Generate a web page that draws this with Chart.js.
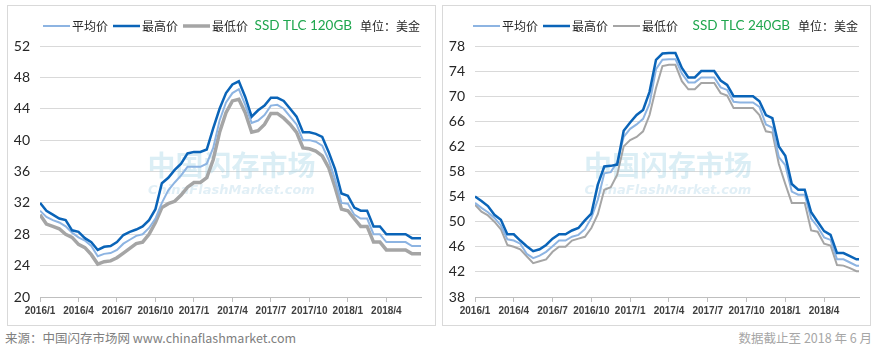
<!DOCTYPE html>
<html>
<head>
<meta charset="utf-8">
<script src="https://cdn.jsdelivr.net/npm/chart.js@4.4.1/dist/chart.umd.min.js"></script>
<style>
  body { margin: 0; background: #fff; width: 879px; height: 350px; position: relative; overflow: hidden; font-family: 'Noto Sans CJK SC', sans-serif; }
  .box { position: absolute; top: 5px; width: 427px; height: 319px; border: 1px solid #d9d9d9; }
  #box1 { left: 7px; }
  #box2 { left: 442px; }
  .box canvas { position: absolute; left: 0; top: 0; }
  .foot { position: absolute; top: 328px; font-size: 12.5px; line-height: 20px; white-space: nowrap; }
  #src { left: 5px; color: #808080; }
  #upto { right: 7px; color: #a6a6a6; }
</style>
</head>
<body>
<div class="box" id="box1"><canvas id="c120" width="427" height="319"></canvas></div>
<div class="box" id="box2"><canvas id="c240" width="427" height="319"></canvas></div>
<div class="foot" id="src">来源：中国闪存市场网 www.chinaflashmarket.com</div>
<div class="foot" id="upto">数据截止至 2018 年 6 月</div>
<script>
// half-monthly price samples, 2016/1 .. 2018/6
const dates = [
  '2016-01-01','2016-01-16','2016-02-01','2016-02-16','2016-03-01','2016-03-16','2016-04-01','2016-04-16','2016-05-01','2016-05-16',
  '2016-06-01','2016-06-16','2016-07-01','2016-07-16','2016-08-01','2016-08-16','2016-09-01','2016-09-16','2016-10-01','2016-10-16',
  '2016-11-01','2016-11-16','2016-12-01','2016-12-16','2017-01-01','2017-01-16','2017-02-01','2017-02-16','2017-03-01','2017-03-16',
  '2017-04-01','2017-04-16','2017-05-01','2017-05-16','2017-06-01','2017-06-16','2017-07-01','2017-07-16','2017-08-01','2017-08-16',
  '2017-09-01','2017-09-16','2017-10-01','2017-10-16','2017-11-01','2017-11-16','2017-12-01','2017-12-16','2018-01-01','2018-01-16',
  '2018-02-01','2018-02-16','2018-03-01','2018-03-16','2018-04-01','2018-04-16','2018-05-01','2018-05-16','2018-06-01','2018-06-16',
  '2018-06-22'
];
const tickLabels = ['2016/1','2016/4','2016/7','2016/10','2017/1','2017/4','2017/7','2017/10','2018/1','2018/4'];
const seriesNames = ['平均价', '最高价', '最低价'];

// SSD TLC 120GB
const avg120 = [
  31.0,30.2,29.8,29.5,29.0,28.2,27.6,27.2,26.5,25.2,
  25.5,25.6,26.0,26.8,27.3,27.8,28.0,28.8,30.0,32.0,
  33.6,34.6,35.5,36.6,36.6,36.6,37.0,39.0,42.5,44.8,
  46.0,46.5,44.5,42.2,42.5,43.2,44.4,44.5,44.0,43.0,
  42.0,40.0,40.0,39.8,39.3,37.5,35.0,32.0,31.9,30.5,
  30.0,30.0,28.0,28.0,27.0,27.0,27.0,27.0,26.5,26.5,
  26.5];
const high120 = [
  32.0,31.0,30.5,30.0,29.8,28.5,28.3,27.5,27.0,26.0,
  26.4,26.5,27.0,27.9,28.3,28.6,29.0,29.8,31.2,34.5,
  35.2,36.2,37.0,38.3,38.5,38.5,38.8,41.5,44.0,46.0,
  47.1,47.5,45.5,43.0,43.8,44.4,45.4,45.4,45.0,44.0,
  43.0,41.0,41.0,40.8,40.4,38.5,36.3,33.2,32.9,31.4,
  31.0,31.0,29.0,29.0,28.0,28.0,28.0,28.0,27.5,27.5,
  27.5];
const low120 = [
  30.5,29.3,29.0,28.7,28.0,27.6,26.7,26.3,25.4,24.2,
  24.5,24.6,25.0,25.6,26.2,26.8,27.0,28.0,29.5,31.4,
  31.9,32.2,33.0,34.0,34.6,34.6,35.2,37.5,41.0,43.5,
  45.0,45.2,43.5,41.0,41.2,42.0,43.4,43.4,42.8,42.0,
  41.0,39.0,38.9,38.6,38.0,36.5,34.0,31.2,31.0,30.0,
  29.0,29.0,27.0,27.0,26.0,26.0,26.0,26.0,25.5,25.5,
  25.5];

// SSD TLC 240GB
const avg240 = [
  53.0,52.2,51.5,50.6,49.4,47.2,47.0,46.5,44.9,44.2,
  44.6,45.2,46.1,47.0,47.0,47.6,47.9,48.8,50.6,53.5,
  57.7,57.9,59.5,63.5,64.8,65.5,66.4,68.8,74.3,75.8,
  75.9,75.9,73.6,72.2,72.2,73.0,73.0,73.0,71.4,71.0,
  69.1,69.0,69.0,69.0,68.3,65.5,65.0,60.3,59.0,54.8,
  54.3,54.3,50.5,49.2,47.5,47.1,44.0,44.0,43.5,43.0,
  43.0];
const high240 = [
  54.0,53.3,52.5,51.1,50.3,48.0,48.0,47.0,46.1,45.3,
  45.6,46.3,47.3,48.0,48.0,48.6,49.0,50.2,51.3,55.9,
  58.8,58.9,59.1,64.5,65.8,67.0,67.8,70.7,75.8,76.8,
  76.9,76.9,74.5,73.0,73.0,74.0,74.0,74.0,72.5,71.8,
  70.0,70.0,70.0,70.0,69.2,67.0,66.5,62.0,60.5,56.0,
  55.1,55.1,51.5,50.0,48.5,47.9,45.0,45.0,44.5,44.0,
  44.0];
const low240 = [
  52.7,51.6,51.0,50.0,48.8,46.3,46.0,45.6,44.5,43.4,
  43.7,44.0,45.2,46.0,46.0,47.0,47.3,47.6,49.0,51.2,
  55.1,55.5,57.5,62.0,63.0,63.5,64.4,67.0,71.3,74.8,
  75.0,75.0,72.4,71.1,71.1,72.1,72.1,72.1,70.5,70.1,
  68.1,68.1,68.1,68.1,67.0,64.4,64.2,59.2,56.0,53.0,
  53.0,53.0,48.6,48.4,46.5,46.2,43.1,43.0,42.6,42.1,
  42.1];

const colors = ['#8db4e2', '#0a64b8', '#a5a5a5'];

// months since 2016/1
function monthIndex(s) {
  const [y, m, d] = s.split('-').map(Number);
  return (y - 2016) * 12 + (m - 1) + (d - 1) / 30;
}
const xs = dates.map(monthIndex);
const pts = arr => arr.map((v, i) => ({ x: xs[i], y: v }));

const headerPlugin = {
  id: 'header',
  afterDraw(chart, args, opts) {
    const ctx = chart.ctx, area = chart.chartArea;
    ctx.save();
    ctx.textBaseline = 'middle';
    ctx.font = '12px "Noto Sans CJK SC"';
    let x = area.left + opts.shift;
    const y = 20;
    chart.data.datasets.forEach(ds => {
      ctx.strokeStyle = ds.borderColor;
      ctx.lineWidth = ds.borderWidth;
      ctx.beginPath();
      ctx.moveTo(x, y);
      ctx.lineTo(x + 27, y);
      ctx.stroke();
      ctx.fillStyle = '#262626';
      ctx.textAlign = 'left';
      ctx.fillText(ds.label, x + 29, y);
      x += 29 + ctx.measureText(ds.label).width + 5;
    });
    ctx.textAlign = 'right';
    ctx.fillStyle = '#262626';
    const ux = area.right - 1;
    ctx.fillText('单位：美金', ux, y);
    ctx.font = '13.5px Lato';
    ctx.fillStyle = '#1fa64e';
    ctx.fillText(opts.product, ux - 68, y);
    ctx.restore();
  }
};

const watermarkPlugin = {
  id: 'watermark',
  beforeDatasetsDraw(chart) {
    const ctx = chart.ctx, area = chart.chartArea;
    const cx = (area.left + area.right) / 2 + 1;
    ctx.save();
    ctx.textAlign = 'center';
    ctx.textBaseline = 'middle';
    ctx.fillStyle = 'rgba(160, 210, 228, 0.38)';
    ctx.font = 'bold 28px "Noto Sans CJK SC"';
    ctx.fillText('中国闪存市场', cx, 159);
    ctx.font = 'italic bold 13px "DejaVu Sans"';
    ctx.fillStyle = 'rgba(170, 210, 228, 0.35)';
    ctx.fillText('ChinaFlashMarket.com', cx, 185);
    ctx.restore();
  }
};

function makeChart(id, product, avg, high, low, yMin, yMax, rightPad, shift, lowWidth) {
  const vals = [avg, high, low];
  const widths = [2, 2.5, lowWidth];
  new Chart(document.getElementById(id), {
    type: 'line',
    data: {
      datasets: vals.map((v, i) => ({
        label: seriesNames[i],
        data: pts(v),
        borderColor: colors[i],
        borderWidth: widths[i],
        pointRadius: 0,
        tension: 0,
        fill: false,
        order: i === 1 ? 0 : (i === 0 ? 1 : 2)
      }))
    },
    options: {
      responsive: false,
      animation: false,
      layout: { padding: { top: 40, right: rightPad, left: 0, bottom: 0 } },
      plugins: {
        legend: { display: false },
        tooltip: { enabled: false },
        header: { product: product, shift: shift }
      },
      scales: {
        x: {
          type: 'linear',
          min: 0,
          max: xs[xs.length - 1],
          afterBuildTicks: s => { s.ticks = tickLabels.map((t, i) => ({ value: i * 3 })); },
          afterFit: s => { s.height = 28; },
          grid: { drawOnChartArea: false, drawTicks: true, tickLength: 5, color: '#bfbfbf' },
          border: { color: '#bfbfbf' },
          ticks: {
            autoSkip: false,
            maxRotation: 0,
            padding: 3,
            color: '#404040',
            font: { family: 'Liberation Sans', size: 10, weight: 'bold' },
            callback: (v, i) => tickLabels[i]
          }
        },
        y: {
          min: yMin,
          max: yMax,
          afterFit: s => { s.width = 32; },
          grid: { color: '#d9d9d9', drawTicks: false },
          border: { display: false },
          ticks: {
            stepSize: 4,
            padding: 10,
            color: '#262626',
            font: { family: 'Lato', size: 14 }
          }
        }
      }
    },
    plugins: [watermarkPlugin, headerPlugin]
  });
}

makeChart('c120', 'SSD TLC 120GB', avg120, high120, low120, 20, 52, 14, 3, 3.5);
makeChart('c240', 'SSD TLC 240GB', avg240, high240, low240, 38, 78, 11, -2, 2);
</script>
</body>
</html>
